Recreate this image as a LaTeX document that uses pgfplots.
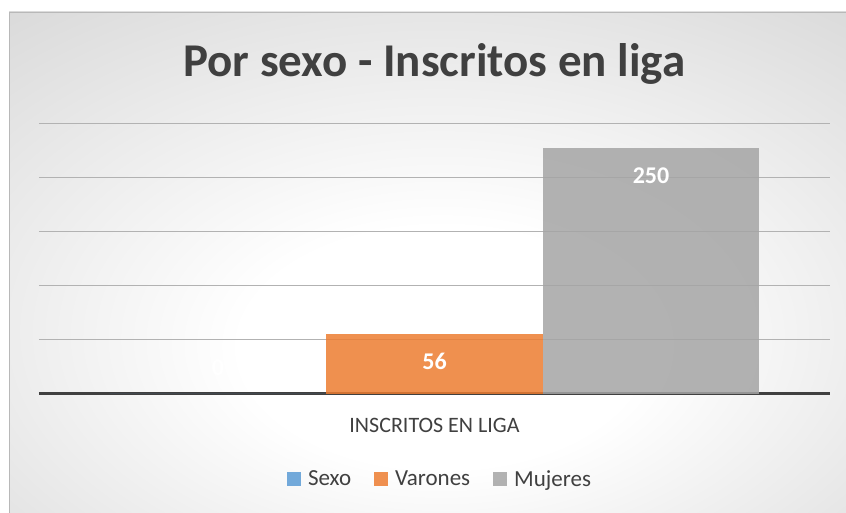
\documentclass[border=0pt]{standalone}
\usepackage{fontspec}
\setmainfont{Carlito}
\usepackage{pgfplots}
\pgfplotsset{compat=1.18}
\definecolor{cblue}{HTML}{5B9BD5}
\definecolor{corange}{HTML}{ED7D31}
\definecolor{cgray}{HTML}{A5A5A5}
\definecolor{txt}{HTML}{404040}
\pgfdeclareradialshading{chartbg}{\pgfpoint{1bp}{-10bp}}{color(0bp)=(white); color(12bp)=(white); color(50bp)=(black!20); color(80bp)=(black!24)}

\begin{document}
\begin{tikzpicture}[x=1pt,y=1pt]
\useasboundingbox (0,0) rectangle (846,513);
\shade[shading=chartbg] (9,0) rectangle (846,501);
\draw[black!28, line width=1pt] (9.5,0) -- (9.5,500.5) -- (846,500.5);
\begin{axis}[
  at={(39pt,119pt)}, anchor=south west,
  scale only axis, width=791pt, height=270pt,
  xmin=-1, xmax=1, ymin=0, ymax=250,
  ybar=0pt, bar width=216.5pt,
  axis line style={draw=none},
  xtick={0}, xticklabels={INSCRITOS EN LIGA},
  xticklabel style={font=\fontsize{22}{26}\selectfont, text=txt, yshift=-21pt},
  ytick={50,100,...,250}, yticklabels={},
  major tick length=0pt,
  ymajorgrids, grid style={black!30, line width=1pt},
  extra y ticks={0}, extra y tick labels={},
  extra y tick style={grid style={txt, line width=3pt}},
  title={Por sexo - Inscritos en liga},
  title style={font=\bfseries\fontsize{47}{56}\selectfont, text=txt, anchor=base, at={(0.5,1)}, yshift=41pt},
  legend columns=3,
  legend style={at={(0.507,-0.315)}, anchor=center, draw=none, fill=none,
    font=\fontsize{23}{27}\selectfont, text=txt,
    /tikz/every odd column/.append style={column sep=5pt},
    /tikz/every even column/.append style={column sep=21pt}},
  legend image code/.code={\fill[#1] (0pt,-7pt) rectangle (14pt,7pt);},
  /pgf/number format/assume math mode=true,
  clip=false,
]
\addplot[fill=cblue, draw=none, fill opacity=0.85,
  nodes near coords,
  nodes near coords style={anchor=center, yshift=26pt, text=white, text opacity=1, font=\bfseries\fontsize{24}{28}\selectfont}]
  coordinates {(0,0)};
\addlegendentry{Sexo}
\addplot[fill=corange, draw=none, fill opacity=0.85,
  nodes near coords,
  nodes near coords style={anchor=center, yshift=-28pt, text=white, text opacity=1, font=\bfseries\fontsize{24}{28}\selectfont}]
  coordinates {(0,56)};
\addlegendentry{Varones}
\addplot[fill=cgray, draw=none, fill opacity=0.85,
  point meta=explicit symbolic,
  nodes near coords,
  nodes near coords style={anchor=center, yshift=-28pt, text=white, text opacity=1, font=\bfseries\fontsize{24}{28}\selectfont}]
  coordinates {(0,228) [250]};
\addlegendentry{Mujeres}
\end{axis}
\end{tikzpicture}
\end{document}
